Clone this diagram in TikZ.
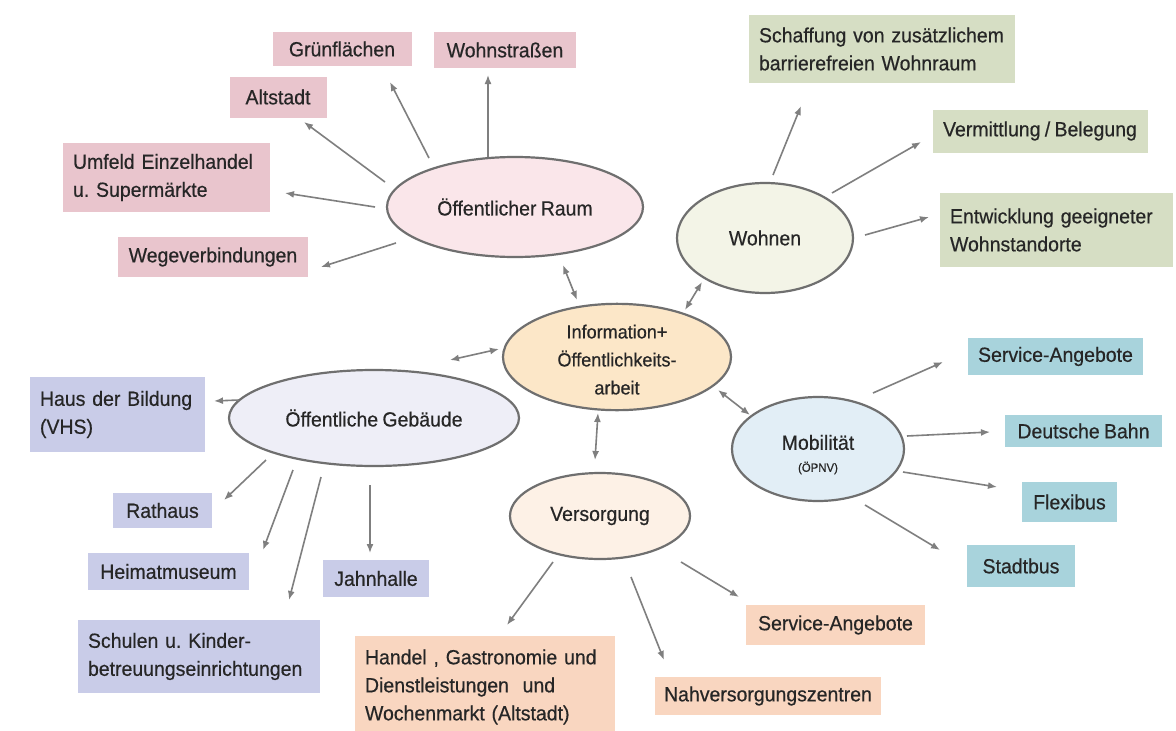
\documentclass[tikz,border=0pt]{standalone}
\usepackage{fontspec}
\setmainfont{Liberation Sans}[FakeStretch=0.95,FakeBold=0.5,WordSpace=0.8]
\usetikzlibrary{shapes.geometric,arrows.meta}
\definecolor{pinkbox}{HTML}{E9C5CD}
\definecolor{pinkell}{HTML}{FAE6EA}
\definecolor{greenbox}{HTML}{D6DEC4}
\definecolor{greenell}{HTML}{F3F4E7}
\definecolor{lavbox}{HTML}{C9CCE8}
\definecolor{lavell}{HTML}{EEEEF7}
\definecolor{peachbox}{HTML}{F9D6C0}
\definecolor{infoell}{HTML}{FCE7C8}
\definecolor{versell}{HTML}{FDF1E6}
\definecolor{tealbox}{HTML}{A8D3DC}
\definecolor{mobell}{HTML}{E2EEF6}
\definecolor{edgec}{HTML}{6F6F6F}
\definecolor{arrc}{HTML}{7F7F7F}
\definecolor{txt}{HTML}{262626}
\frenchspacing
\begin{document}
\begin{tikzpicture}[x=1pt,y=-1pt,
  every node/.style={font=\fontsize{20.5}{28}\selectfont, text=txt, inner sep=0pt, outer sep=0pt},
  box/.style n args={3}{rectangle, fill=#1, minimum width=#2, minimum height=#3},
  mbox/.style n args={3}{rectangle, fill=#1, inner xsep=10pt, text width=#2, minimum height=#3, align=left},
  ell/.style n args={3}{ellipse, draw=edgec, line width=2.2pt, fill=#1, minimum width=#2, minimum height=#3, align=center},
  arr/.style={draw=arrc, line width=1.6pt, -{Latex[length=9pt,width=7pt]}},
  darr/.style={draw=arrc, line width=1.6pt, {Latex[length=9pt,width=7pt]}-{Latex[length=9pt,width=7pt]}}]
\useasboundingbox[fill=white] (0,0) rectangle (1176,731);

% ---- boxes: Oeffentlicher Raum
\node[box={pinkbox}{139pt}{34pt}] (gruen) at (342,49) {Grünflächen};
\node[box={pinkbox}{142pt}{36pt}] (wohnstr) at (505,50) {Wohnstraßen};
\node[box={pinkbox}{97pt}{41pt}] (altstadt) at (278,97) {Altstadt};
\node[mbox={pinkbox}{187pt}{69pt}] (umfeld) at (166.5,177.5) {Umfeld Einzelhandel\\u. Supermärkte};
\node[box={pinkbox}{190pt}{40pt}] (wege) at (213,257) {Wegeverbindungen};

% ---- boxes: Wohnen
\node[mbox={greenbox}{246pt}{68pt}] (schaffung) at (882,49) {Schaffung von zusätzlichem\\barrierefreien Wohnraum};
\node[box={greenbox}{215pt}{43pt}] (vermittl) at (1040,131) {Vermittlung / Belegung};
\node[mbox={greenbox}{213pt}{74pt}] (entw) at (1056.5,230) {Entwicklung geeigneter\\Wohnstandorte};

% ---- boxes: Oeffentliche Gebaeude
\node[mbox={lavbox}{155pt}{75pt}] (haus) at (117.5,414.5) {Haus der Bildung\\(VHS)};
\node[box={lavbox}{99pt}{35pt}] (rathaus) at (162.5,510.5) {Rathaus};
\node[box={lavbox}{161pt}{37pt}] (heimat) at (168.5,571.5) {Heimatmuseum};
\node[box={lavbox}{106pt}{37pt}] (jahn) at (376,578.5) {Jahnhalle};
\node[mbox={lavbox}{222pt}{73pt}] (schulen) at (199,656.5) {Schulen u. Kinder-\\betreuungseinrichtungen};

% ---- boxes: Versorgung
\node[mbox={peachbox}{240pt}{102pt}] (handel) at (485,687) {Handel , Gastronomie und\\Dienstleistungen\ \ und\\Wochenmarkt (Altstadt)};
\node[box={peachbox}{179pt}{40pt}] (svcv) at (835.5,625) {Service-Angebote};
\node[box={peachbox}{226pt}{38pt}] (nahv) at (768,696) {Nahversorgungszentren};

% ---- boxes: Mobilitaet
\node[box={tealbox}{175pt}{37pt}] (svcm) at (1055.5,356.5) {Service-Angebote};
\node[box={tealbox}{157pt}{32pt}] (db) at (1083.5,431) {Deutsche Bahn};
\node[box={tealbox}{95pt}{40pt}] (flex) at (1069.5,502) {Flexibus};
\node[box={tealbox}{108pt}{42pt}] (stadt) at (1021,566) {Stadtbus};

% ---- ellipses
\node[ell={pinkell}{256pt}{100pt}] (oer) at (515,207) {Öffentlicher Raum};
\node[ell={greenell}{176pt}{110pt}] (wohnen) at (765,238) {Wohnen};
\node[ell={lavell}{290pt}{96pt}] (oeg) at (374,418) {Öffentliche Gebäude};
\node[ell={infoell}{228pt}{100pt}, font=\fontsize{19}{28}\selectfont] (info) at (617,357) {\rule{0pt}{19pt}Information+\\Öffentlichkeits-\\arbeit};
\node[ell={versell}{180pt}{86pt}] (vers) at (600,516) {Versorgung};
\node[ell={mobell}{172pt}{104pt}] (mob) at (818,449) {\rule{0pt}{26pt}Mobilität\\[-6pt]{\fontsize{12}{14}\selectfont (ÖPNV)}};

% ---- arrows Oeffentlicher Raum
\draw[arr] ([shift={(-27,-50)}]oer.center) -- ([shift={(-17,25)}]wohnstr.center);
\draw[arr] ([shift={(-86,-49)}]oer.center) -- ([shift={(48,33)}]gruen.center);
\draw[arr] ([shift={(-130,-25)}]oer.center) -- ([shift={(26,25)}]altstadt.center);
\draw[arr] ([shift={(-140,0)}]oer.center) -- ([shift={(118.5,15.5)}]umfeld.center);
\draw[arr] ([shift={(-119,36)}]oer.center) -- ([shift={(108,10)}]wege.center);

% ---- arrows Wohnen
\draw[arr] ([shift={(8,-63)}]wohnen.center) -- ([shift={(-81,57)}]schaffung.center);
\draw[arr] ([shift={(67,-45)}]wohnen.center) -- ([shift={(-119,11)}]vermittl.center);
\draw[arr] ([shift={(100,-3)}]wohnen.center) -- ([shift={(-127.5,-13)}]entw.center);

% ---- arrows Oeffentliche Gebaeude
\draw[arr] ([shift={(-135,-18)}]oeg.center) -- ([shift={(96.5,-13.5)}]haus.center);
\draw[arr] ([shift={(-108,42)}]oeg.center) -- ([shift={(61.5,-10.5)}]rathaus.center);
\draw[arr] ([shift={(-81,52)}]oeg.center) -- ([shift={(94.5,-21.5)}]heimat.center);
\draw[arr] ([shift={(-53,59)}]oeg.center) -- ([shift={(90,-56.5)}]schulen.center);
\draw[arr] ([shift={(-4,67)}]oeg.center) -- ([shift={(-6,-25.5)}]jahn.center);

% ---- arrows Versorgung
\draw[arr] ([shift={(-47,46)}]vers.center) -- ([shift={(22,-62)}]handel.center);
\draw[arr] ([shift={(31,61)}]vers.center) -- ([shift={(-104,-36)}]nahv.center);
\draw[arr] ([shift={(81,46)}]vers.center) -- ([shift={(-96.5,-28)}]svcv.center);

% ---- arrows Mobilitaet
\draw[arr] ([shift={(55,-56)}]mob.center) -- ([shift={(-112.5,5.5)}]svcm.center);
\draw[arr] ([shift={(89,-13)}]mob.center) -- ([shift={(-93.5,1)}]db.center);
\draw[arr] ([shift={(85,23)}]mob.center) -- ([shift={(-72.5,-15)}]flex.center);
\draw[arr] ([shift={(47,56)}]mob.center) -- ([shift={(-81,-16)}]stadt.center);

% ---- double arrows to Information
\draw[darr] ([shift={(48,58)}]oer.center) -- ([shift={(-40,-57)}]info.center);
\draw[darr] ([shift={(-63,44)}]wohnen.center) -- ([shift={(68,-47)}]info.center);
\draw[darr] ([shift={(76,-58)}]oeg.center) -- ([shift={(-118,-8)}]info.center);
\draw[darr] ([shift={(-5,-56)}]vers.center) -- ([shift={(-19,56)}]info.center);
\draw[darr] ([shift={(-68,-34)}]mob.center) -- ([shift={(101,33)}]info.center);
\end{tikzpicture}
\end{document}
